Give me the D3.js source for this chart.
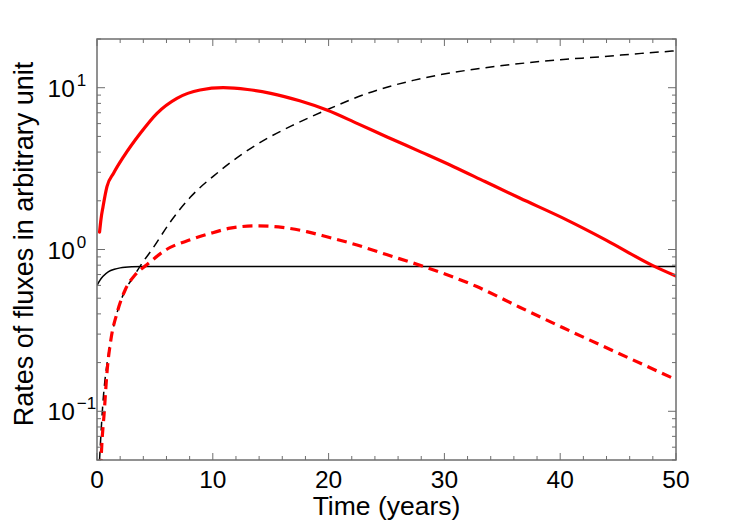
<!DOCTYPE html>
<html>
<head>
<meta charset="utf-8">
<script src="https://cdn.jsdelivr.net/npm/d3@7"></script>
<style>
body { margin: 0; background: #fff; }
text { font-family: "Liberation Sans", Arial, sans-serif; }
</style>
</head>
<body>
<script>
var width = 747;
var height = 523;

// data
var xTicks = [0, 10, 20, 30, 40, 50];
var yTickExp = [-1, 0, 1];

var redSolidT = [0.22, 0.35, 0.52, 0.86, 1.43, 2.3, 3.74, 5.18, 6.9, 8.9, 10.9, 13, 15, 17.5, 19.85, 22.5, 25, 28, 30.8, 33.5, 36.5, 40.6, 44, 48, 50];
var redSolidV = [1.28, 1.55, 1.84, 2.45, 2.96, 3.75, 5.23, 6.95, 8.6, 9.68, 10.0, 9.75, 9.23, 8.3, 7.28, 6.0, 4.98, 4.0, 3.25, 2.63, 2.08, 1.52, 1.14, 0.795, 0.685];

var redDashT = [0.28, 0.37, 0.63, 0.86, 1.2, 1.73, 2.44, 3.3, 4.3, 6.0, 8.05, 10, 11.5, 13.8, 16, 18.1, 20, 21.9, 25, 28.2, 32.8, 36.5, 40.3, 45, 50];
var redDashV = [0.035, 0.053, 0.1, 0.173, 0.277, 0.405, 0.564, 0.698, 0.805, 1.0, 1.148, 1.27, 1.355, 1.40, 1.37, 1.29, 1.19, 1.095, 0.93, 0.785, 0.59, 0.44, 0.327, 0.229, 0.157];

var blackDashT = [0.15, 0.5, 1.0, 1.5, 2.0, 2.5, 3.16, 3.88, 4.75, 6.33, 8.05, 10.36, 12.65, 14.96, 17, 19.85, 23.3, 27.3, 31.9, 35.4, 40, 43.4, 47, 50];
var blackDashV = [0.04, 0.11, 0.23, 0.35, 0.47, 0.57, 0.68, 0.82, 1.0, 1.48, 2.1, 2.96, 3.94, 4.98, 5.9, 7.3, 9.2, 11.1, 12.8, 13.8, 14.9, 15.5, 16.3, 16.9];

var blackSolidT = [0, 0.25, 0.5, 1, 1.5, 2, 3, 4, 50];
var blackSolidV = [0.6, 0.645, 0.68, 0.73, 0.755, 0.77, 0.782, 0.785, 0.785];

var margin = {left: 97, top: 39, right: 71, bottom: 63};
var plotW = width - margin.left - margin.right;
var plotH = height - margin.top - margin.bottom;

var svg = d3.select("body")
.append("svg")
.attr("width", width)
.attr("height", height);

var x = d3.scaleLinear().domain([0, 50]).range([0, plotW]);
var y = d3.scaleLog().domain([0.05, 20]).range([plotH, 0]);

var g = svg.append("g")
.attr("transform", "translate(" + margin.left + "," + margin.top + ")");

g.append("clipPath")
.attr("id", "clip")
.append("rect")
.attr("width", plotW)
.attr("height", plotH);

function zip(t, v) {
	return t.map(function(d, i) { return [d, v[i]]; });
}

var line = d3.line()
.x(function(d) { return x(d[0]); })
.y(function(d) { return y(d[1]); })
.curve(d3.curveMonotoneX);

var series = [
	{data: zip(blackSolidT, blackSolidV), color: "#000", w: 1.5, dash: null},
	{data: zip(blackDashT, blackDashV), color: "#000", w: 1.5, dash: "9,6"},
	{data: zip(redDashT, redDashV), color: "#ff0000", w: 3.2, dash: "10,6"},
	{data: zip(redSolidT, redSolidV), color: "#ff0000", w: 3.2, dash: null}
];

var lines = g.append("g").attr("clip-path", "url(#clip)");
lines.selectAll("path")
.data(series)
.enter()
.append("path")
.attr("d", function(d) { return line(d.data); })
.attr("fill", "none")
.attr("stroke", function(d) { return d.color; })
.attr("stroke-width", function(d) { return d.w; })
.attr("stroke-dasharray", function(d) { return d.dash; })
.attr("stroke-linecap", function(d) { return d.dash ? "butt" : "round"; });

// ticks on all four sides, pointing inwards
var axisColor = "#6e6e6e";
var xMinor = d3.range(0, 51, 2);
var yMinor = [];
for (var e = -2; e <= 1; e++) {
	for (var k = 2; k <= 9; k++) {
		var v = k * Math.pow(10, e);
		if (v >= 0.05 && v <= 20) yMinor.push(v);
	}
}

var ticks = g.append("g").attr("stroke", axisColor).attr("stroke-width", 1);

xMinor.forEach(function(d) {
	var len = (d % 10 === 0) ? 7 : 4;
	ticks.append("line").attr("x1", x(d)).attr("x2", x(d)).attr("y1", plotH).attr("y2", plotH - len);
	ticks.append("line").attr("x1", x(d)).attr("x2", x(d)).attr("y1", 0).attr("y2", len);
});
yMinor.forEach(function(d) {
	ticks.append("line").attr("x1", 0).attr("x2", 4).attr("y1", y(d)).attr("y2", y(d));
	ticks.append("line").attr("x1", plotW).attr("x2", plotW - 4).attr("y1", y(d)).attr("y2", y(d));
});
yTickExp.forEach(function(d) {
	var yy = y(Math.pow(10, d));
	ticks.append("line").attr("x1", 0).attr("x2", 8).attr("y1", yy).attr("y2", yy);
	ticks.append("line").attr("x1", plotW).attr("x2", plotW - 8).attr("y1", yy).attr("y2", yy);
});

g.append("rect")
.attr("width", plotW)
.attr("height", plotH)
.attr("fill", "none")
.attr("stroke", axisColor)
.attr("stroke-width", 1.5);

// tick labels
g.selectAll(".xlab")
.data(xTicks)
.enter()
.append("text")
.attr("class", "xlab")
.attr("x", function(d) { return x(d); })
.attr("y", plotH + 28)
.attr("text-anchor", "middle")
.attr("font-size", "24.5px")
.text(function(d) { return d; });

var ylab = g.selectAll(".ylab")
.data(yTickExp)
.enter()
.append("text")
.attr("class", "ylab")
.attr("x", -49.5)
.attr("y", function(d) { return y(Math.pow(10, d)) + 9; })
.attr("text-anchor", "start")
.attr("font-size", "24.5px");
ylab.append("tspan").text("10");
ylab.append("tspan")
.attr("dx", 2)
.attr("dy", -11)
.attr("font-size", "17px")
.text(function(d) { return d < 0 ? "\u2212" + (-d) : d; });

// axis titles
svg.append("text")
.attr("x", margin.left + plotW / 2)
.attr("y", 515)
.attr("text-anchor", "middle")
.attr("font-size", "26.5px")
.text("Time (years)");

svg.append("text")
.attr("transform", "translate(33,244) rotate(-90)")
.attr("text-anchor", "middle")
.attr("font-size", "27px")
.text("Rates of fluxes in arbitrary unit");
</script>
</body>
</html>
